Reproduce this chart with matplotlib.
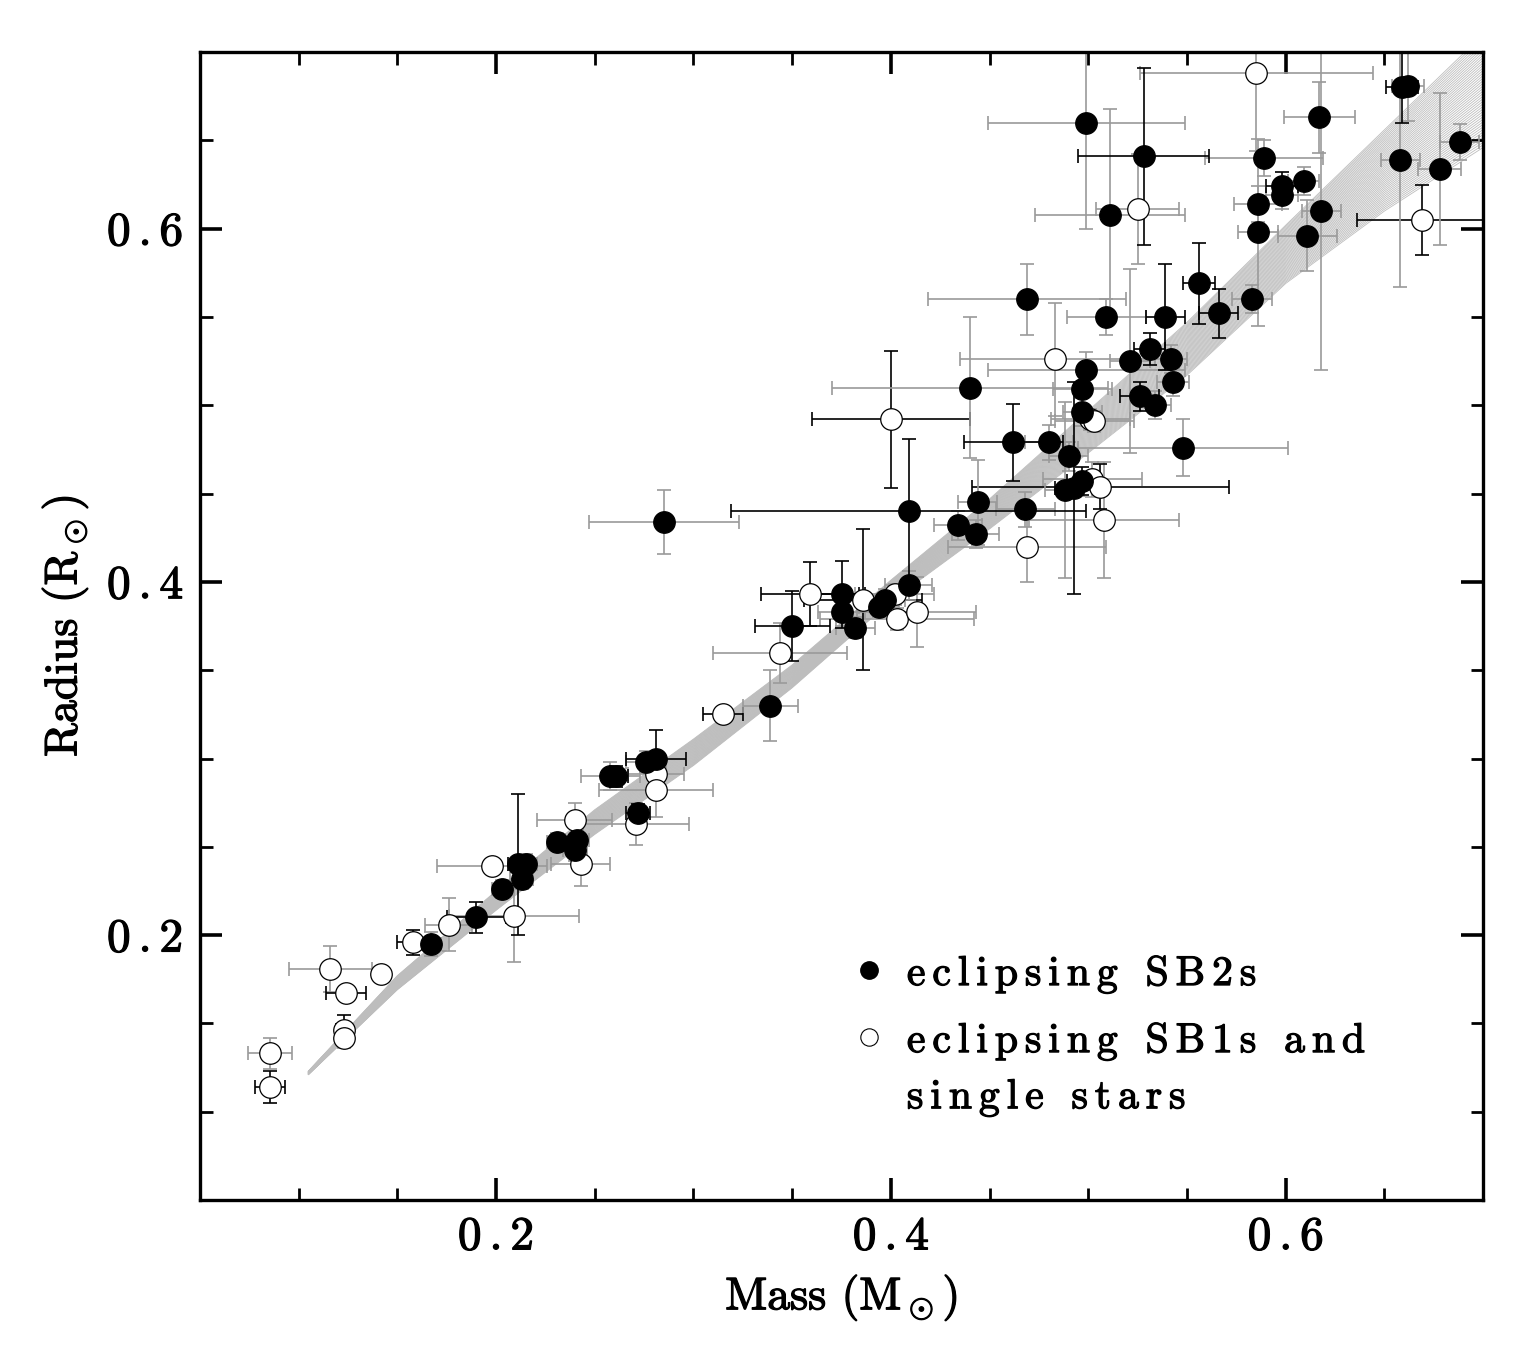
import matplotlib
matplotlib.use("Agg")
import matplotlib.pyplot as plt
import matplotlib.patheffects as pe
import numpy as np

plt.rcParams['font.family'] = ['cmr10', 'DejaVu Serif']
plt.rcParams['mathtext.fontset'] = 'cm'
plt.rcParams['axes.formatter.use_mathtext'] = True

# eclipsing SB2s: mass, radius, mass error, radius error, error bar colour
sb2_mass = [0.167, 0.190, 0.203, 0.211, 0.215, 0.213, 0.231, 0.241, 0.240, 0.258,
            0.261, 0.272, 0.276, 0.281, 0.285, 0.339, 0.350, 0.375, 0.375, 0.382,
            0.394, 0.397, 0.409, 0.409, 0.434, 0.443, 0.444, 0.440, 0.462, 0.480,
            0.490, 0.488, 0.493, 0.497, 0.497, 0.497, 0.499, 0.499, 0.511, 0.509,
            0.469, 0.521, 0.528, 0.531, 0.526, 0.534, 0.539, 0.542, 0.543, 0.548,
            0.556, 0.566, 0.583, 0.586, 0.586, 0.598, 0.598, 0.609, 0.589, 0.611,
            0.618, 0.617, 0.658, 0.659, 0.662, 0.678, 0.688, 0.468]
sb2_radius = [0.195, 0.210, 0.226, 0.240, 0.240, 0.232, 0.253, 0.254, 0.248, 0.290,
              0.290, 0.269, 0.298, 0.300, 0.434, 0.330, 0.375, 0.393, 0.383, 0.374,
              0.386, 0.390, 0.398, 0.440, 0.432, 0.427, 0.445, 0.510, 0.479, 0.479,
              0.471, 0.452, 0.453, 0.457, 0.496, 0.509, 0.520, 0.660, 0.608, 0.550,
              0.560, 0.525, 0.641, 0.532, 0.505, 0.500, 0.550, 0.526, 0.513, 0.476,
              0.569, 0.552, 0.560, 0.598, 0.614, 0.624, 0.619, 0.627, 0.640, 0.596,
              0.610, 0.663, 0.639, 0.680, 0.681, 0.634, 0.649, 0.441]
sb2_mass_err = [0.005, 0.015, 0.005, 0.005, 0.006, 0.006, 0.005, 0.006, 0.006, 0.015,
                0.006, 0.006, 0.010, 0.015, 0.038, 0.014, 0.019, 0.012, 0.012, 0.010,
                0.010, 0.010, 0.012, 0.090, 0.012, 0.012, 0.010, 0.070, 0.025, 0.012,
                0.010, 0.010, 0.010, 0.008, 0.010, 0.015, 0.050, 0.050, 0.038, 0.020,
                0.050, 0.010, 0.033, 0.008, 0.010, 0.008, 0.010, 0.008, 0.008, 0.053,
                0.008, 0.010, 0.010, 0.010, 0.012, 0.008, 0.008, 0.008, 0.030, 0.015,
                0.010, 0.018, 0.010, 0.008, 0.008, 0.011, 0.010, 0.015]
sb2_radius_err = [0.007, 0.009, 0.005, 0.040, 0.006, 0.006, 0.005, 0.006, 0.006, 0.008,
                  0.006, 0.005, 0.006, 0.016, 0.018, 0.020, 0.020, 0.019, 0.008, 0.006,
                  0.006, 0.006, 0.008, 0.041, 0.008, 0.008, 0.024, 0.040, 0.022, 0.010,
                  0.008, 0.050, 0.060, 0.008, 0.008, 0.010, 0.010, 0.060, 0.060, 0.010,
                  0.020, 0.052, 0.050, 0.009, 0.008, 0.008, 0.030, 0.008, 0.008, 0.016,
                  0.023, 0.014, 0.008, 0.053, 0.010, 0.008, 0.008, 0.008, 0.010, 0.020,
                  0.090, 0.020, 0.072, 0.020, 0.020, 0.043, 0.010, 0.010]
sb2_err_col = list("gkgkggggggkkgkggkkgggggkggggkgggkkggggggggkkkgkgggkkgggkgggggggkgggggg")[:68]

# eclipsing SB1s and single stars
sgl_mass = [0.0855, 0.0855, 0.123, 0.123, 0.124, 0.116, 0.142, 0.158, 0.176, 0.209,
            0.198, 0.240, 0.243, 0.271, 0.281, 0.281, 0.315, 0.344, 0.359, 0.386,
            0.402, 0.403, 0.413, 0.400, 0.469, 0.483, 0.501, 0.503, 0.502, 0.506,
            0.508, 0.525, 0.585, 0.669]
sgl_radius = [0.133, 0.114, 0.146, 0.142, 0.167, 0.181, 0.178, 0.196, 0.206, 0.211,
              0.239, 0.265, 0.240, 0.263, 0.291, 0.282, 0.325, 0.360, 0.393, 0.390,
              0.393, 0.379, 0.383, 0.492, 0.420, 0.526, 0.492, 0.491, 0.458, 0.454,
              0.435, 0.611, 0.688, 0.605]
sgl_mass_err = [0.011, 0.0075, 0.004, 0.004, 0.010, 0.021, 0.0, 0.008, 0.012, 0.033,
                0.028, 0.019, 0.015, 0.027, 0.014, 0.029, 0.010, 0.034, 0.025, 0.030,
                0.020, 0.039, 0.030, 0.040, 0.040, 0.048, 0.020, 0.020, 0.025, 0.065,
                0.038, 0.021, 0.059, 0.033]
sgl_radius_err = [0.009, 0.009, 0.009, 0.006, 0.004, 0.013, 0.0, 0.007, 0.015, 0.026,
                  0.004, 0.010, 0.012, 0.012, 0.004, 0.015, 0.004, 0.017, 0.018, 0.040,
                  0.006, 0.006, 0.020, 0.039, 0.020, 0.032, 0.006, 0.006, 0.010, 0.013,
                  0.033, 0.031, 0.044, 0.020]
sgl_err_col = list("gkkgkggkggggggggkgkkgggkgggggkgggkg")[:34]

# model isochrone band: lower and upper envelope
model_mass = [0.105, 0.15, 0.20, 0.25, 0.30, 0.35, 0.40, 0.45, 0.50, 0.55, 0.60, 0.65, 0.70]
model_r_low = [0.121, 0.169, 0.214, 0.257, 0.296, 0.340, 0.389, 0.430, 0.473, 0.517, 0.569, 0.610, 0.646]
model_r_high = [0.123, 0.177, 0.225, 0.271, 0.311, 0.353, 0.401, 0.447, 0.497, 0.547, 0.602, 0.656, 0.710]

tick_labels = ['0.2', '0.4', '0.6']
legend_labels = ['eclipsing SB2s', 'eclipsing SB1s and', 'single stars']

SP = '\u2006'


def spaced(s):
    # letter-spaced text like the original plot
    return SP.join(s)


thick = [pe.withStroke(linewidth=0.9, foreground='black')]

fig = plt.figure(figsize=(15.37, 13.52), dpi=100)
ax = fig.add_axes([0.130, 0.1124, 0.835, 0.8491])

# model curves
lo = np.array(model_r_low)
hi = np.array(model_r_high)
for t in np.linspace(0, 1, 45):
    ax.plot(model_mass, lo + t * (hi - lo), color='#bdbdbd', lw=0.6, zorder=1)

ecolors = {'g': '#9a9a9a', 'k': 'black'}


def draw_errs(m, r, dm, dr, cols):
    m = np.array(m); r = np.array(r); dm = np.array(dm); dr = np.array(dr)
    cols = np.array(cols)
    for key, c in ecolors.items():
        sel = cols == key
        ax.errorbar(m[sel], r[sel], xerr=dm[sel], yerr=dr[sel], fmt='none',
                    ecolor=c, elinewidth=1.2, capsize=5, capthick=1.2, zorder=2)


draw_errs(sgl_mass, sgl_radius, sgl_mass_err, sgl_radius_err, sgl_err_col)
draw_errs(sb2_mass, sb2_radius, sb2_mass_err, sb2_radius_err, sb2_err_col)

ax.plot(sgl_mass, sgl_radius, 'o', ms=15.5, mfc='white', mec='black', mew=0.9, zorder=3)
ax.plot(sb2_mass, sb2_radius, 'o', ms=15.5, mfc='black', mec='black', mew=0.9, zorder=4)

ax.set_xlim(0.05, 0.7)
ax.set_ylim(0.05, 0.7)
ax.set_xticks([0.2, 0.4, 0.6])
ax.set_yticks([0.2, 0.4, 0.6])
ax.set_xticklabels([spaced(t) for t in tick_labels])
ax.set_yticklabels([spaced(t) for t in tick_labels])
ax.set_xticks(np.arange(0.1, 0.7, 0.05), minor=True)
ax.set_yticks(np.arange(0.1, 0.7, 0.05), minor=True)
ax.tick_params(which='both', direction='in', top=True, right=True)
ax.tick_params(which='major', length=16, width=2.6, labelsize=34, pad=12)
ax.tick_params(which='minor', length=9, width=2.0)
for lab in ax.get_xticklabels() + ax.get_yticklabels():
    lab.set_path_effects(thick)
for s in ax.spines.values():
    s.set_linewidth(2.4)

ax.set_xlabel(r'Mass (M$_\odot$)', fontsize=33, labelpad=10, path_effects=thick)
ax.set_ylabel(r'Radius (R$_\odot$)', fontsize=33, labelpad=12, path_effects=thick)

# legend
ax.plot([0.5214], [0.2003], 'o', ms=12.5, mfc='black', mec='black', transform=ax.transAxes, zorder=5)
ax.plot([0.5214], [0.142], 'o', ms=12.5, mfc='white', mec='black', mew=0.8, transform=ax.transAxes, zorder=5)
for txt, yy in zip(legend_labels, [0.1873, 0.1289, 0.0800]):
    ax.text(0.551, yy, spaced(txt), fontsize=30, transform=ax.transAxes, va='baseline',
            path_effects=thick)

fig.savefig('out.png', dpi=100)
